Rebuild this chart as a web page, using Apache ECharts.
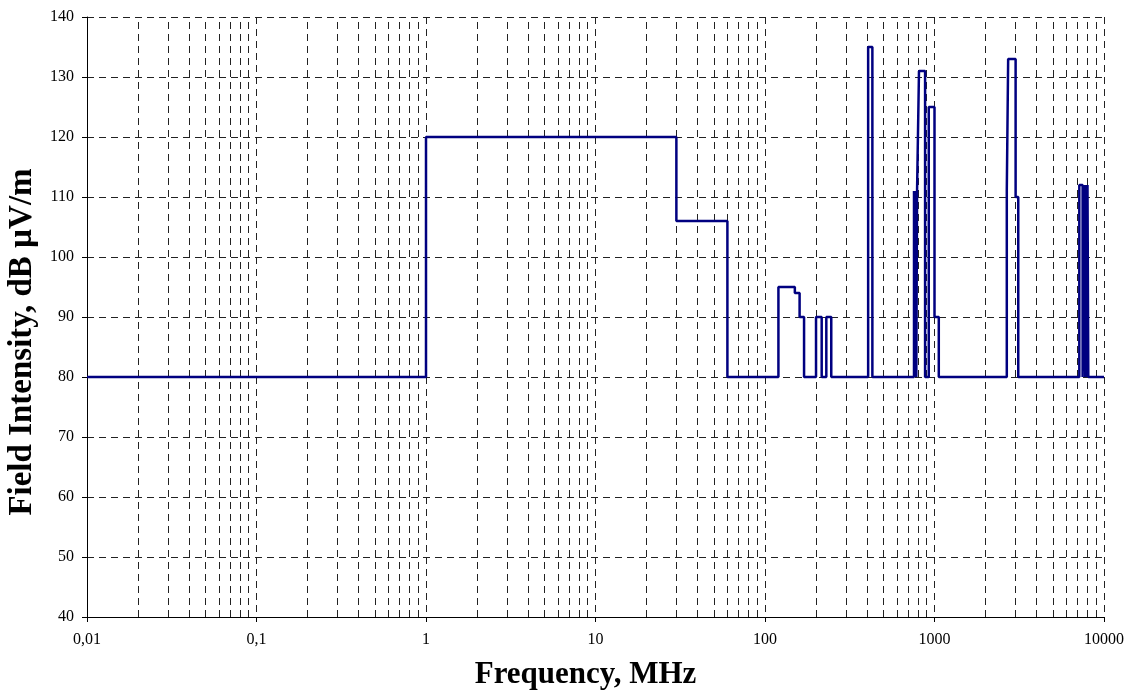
<!DOCTYPE html>
<html>
<head>
<meta charset="utf-8">
<script src="https://cdn.jsdelivr.net/npm/echarts@6/dist/echarts.min.js"></script>
<style>
  html, body { margin: 0; padding: 0; background: #fff; }
  #chart { width: 1131px; height: 694px; }
</style>
</head>
<body>
<div id="chart"></div>
<script>
// band edges in MHz and the level held between each edge and the next
const freqEdges = [0.01, 1, 30, 60, 120, 150, 160, 170, 200, 216, 230, 246, 406, 430,
    757, 765, 773, 781, 789, 810, 880, 925, 1000, 1060,
    2670, 2720, 3010, 3120, 7150, 7480, 7620, 7750, 7800, 7950, 7990, 8080, 10000]
const levels = [80, 120, 106, 80, 95, 94, 90, 80, 90, 80, 90, 80, 135,
    80, 111, 80, 111, 80, 111, 131, 80, 125, 90,
    80, 111, 133, 110, 80, 112, 80, 112, 80, 112, 80, 112, 80]

const xTickLabels = ['0,01', '0,1', '1', '10', '100', '1000', '10000']
const minorFactors = [2, 3, 4, 5, 6, 7, 8, 9]
const decades = [0.01, 0.1, 1, 10, 100, 1000]

const serif = 'Liberation Serif'
const gridDash = { color: '#222', width: 1, type: [7, 5] }

// turn the bands into step points
const points = []
for (let i = 0; i < levels.length; i++) {
    points.push([freqEdges[i], levels[i]])
    points.push([freqEdges[i + 1], levels[i]])
}

const minorLines = []
decades.forEach(function (d) {
    minorFactors.forEach(function (k) {
        minorLines.push({ xAxis: k * d })
    })
})

const chart = echarts.init(document.getElementById('chart'))
chart.setOption({
    animation: false,
    grid: { left: 87, right: 27, top: 17, bottom: 77, outerBoundsMode: 'none', containLabel: false },
    xAxis: {
        type: 'log',
        logBase: 10,
        min: 0.01,
        max: 10000,
        interval: 1,
        name: 'Frequency, MHz',
        nameLocation: 'middle',
        nameGap: 42,
        nameTextStyle: {
            fontFamily: serif, fontWeight: 'bold', fontSize: 31, color: '#000',
            padding: [0, 20, 0, 0]
        },
        axisLine: { lineStyle: { color: '#000', width: 1 } },
        axisTick: { show: true, length: 5, lineStyle: { color: '#000' } },
        axisLabel: {
            fontFamily: serif, fontSize: 16, color: '#000', margin: 15,
            formatter: function (v) {
                return xTickLabels[Math.round(Math.log10(v)) + 2]
            }
        },
        splitLine: { show: true, lineStyle: gridDash },
        minorTick: { show: false },
        minorSplitLine: { show: false }
    },
    yAxis: {
        type: 'value',
        min: 40,
        max: 140,
        interval: 10,
        name: 'Field Intensity, dB µV/m',
        nameLocation: 'middle',
        nameGap: 34,
        nameTextStyle: {
            fontFamily: serif, fontWeight: 'bold', fontSize: 33, color: '#000',
            padding: [0, 50, 0, 0]
        },
        axisLine: { show: true, lineStyle: { color: '#000', width: 1 } },
        axisTick: { show: true, length: 5, lineStyle: { color: '#000' } },
        axisLabel: { fontFamily: serif, fontSize: 16, color: '#000', margin: 13 },
        splitLine: { show: true, lineStyle: gridDash }
    },
    series: [
        {
            type: 'line',
            data: points,
            showSymbol: false,
            symbol: 'none',
            lineStyle: { color: '#000080', width: 2.5 },
            z: 5,
            markLine: {
                silent: true,
                symbol: 'none',
                label: { show: false },
                lineStyle: gridDash,
                z: 1,
                data: minorLines
            }
        }
    ]
})
</script>
</body>
</html>
